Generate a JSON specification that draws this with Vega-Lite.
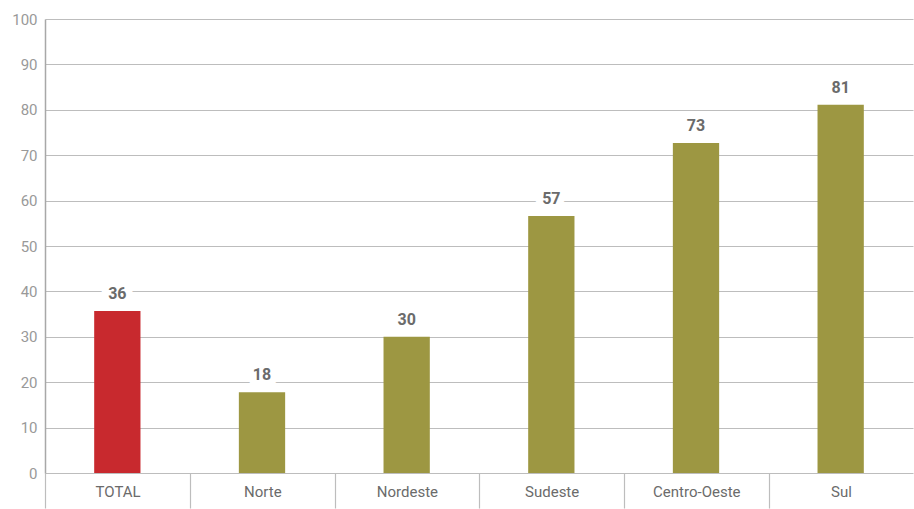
{
  "$schema": "https://vega.github.io/schema/vega-lite/v6.json",
  "width": 868,
  "height": 454,
  "autosize": {"type": "none"},
  "padding": {"left": 45, "top": 19, "right": 1, "bottom": 36},
  "background": "white",
  "config": {"view": {"stroke": null}, "font": "Roboto"},
  "data": {"values": [
    {"region": "TOTAL", "value": 35.7, "label": "36", "kind": "total"},
    {"region": "Norte", "value": 17.8, "label": "18", "kind": "region"},
    {"region": "Nordeste", "value": 30.0, "label": "30", "kind": "region"},
    {"region": "Sudeste", "value": 56.6, "label": "57", "kind": "region"},
    {"region": "Centro-Oeste", "value": 72.7, "label": "73", "kind": "region"},
    {"region": "Sul", "value": 81.1, "label": "81", "kind": "region"}
  ]},
  "encoding": {
    "x": {
      "field": "region", "type": "nominal", "sort": null,
      "scale": {"paddingInner": 0.68, "paddingOuter": 0.34},
      "axis": {
        "title": null, "labelAngle": 0, "bandPosition": 0, "tickOffset": -49,
        "labelAlign": "center", "labelOffset": 49.3, "labelFlush": false, "labelBound": false,
        "domain": false, "ticks": true, "tickSize": 35, "tickColor": "#bdbdbd", "tickWidth": 1.2,
        "labelPadding": -24, "labelFontSize": 15, "labelColor": "#6b6b6b", "labelFont": "Roboto",
        "grid": false
      }
    },
    "y": {
      "field": "value", "type": "quantitative",
      "scale": {"domain": [0, 100], "nice": false},
      "axis": {
        "title": null, "values": [0,10,20,30,40,50,60,70,80,90,100], "labelOverlap": false,
        "ticks": false, "domain": true, "domainColor": "#a8a8a8", "domainWidth": 1.5,
        "grid": true, "gridColor": "#bdbdbd", "gridWidth": 1.2,
        "labelFontSize": 15, "labelColor": "#999999", "labelPadding": 8, "labelFont": "Roboto"
      }
    }
  },
  "layer": [
    {
      "mark": {"type": "bar"},
      "encoding": {
        "color": {
          "field": "kind", "type": "nominal",
          "scale": {"domain": ["total", "region"], "range": ["#c8292e", "#9d9742"]},
          "legend": null
        }
      }
    },
    {
      "mark": {"type": "text", "baseline": "alphabetic", "dy": -12, "fontSize": 16, "fontWeight": "bold", "stroke": "white", "strokeWidth": 14, "fill": "white"},
      "encoding": {"text": {"field": "label"}}
    },
    {
      "mark": {"type": "text", "baseline": "alphabetic", "dy": -12, "fontSize": 16, "fontWeight": "bold", "fill": "#6b6b6b"},
      "encoding": {"text": {"field": "label"}}
    }
  ]
}
